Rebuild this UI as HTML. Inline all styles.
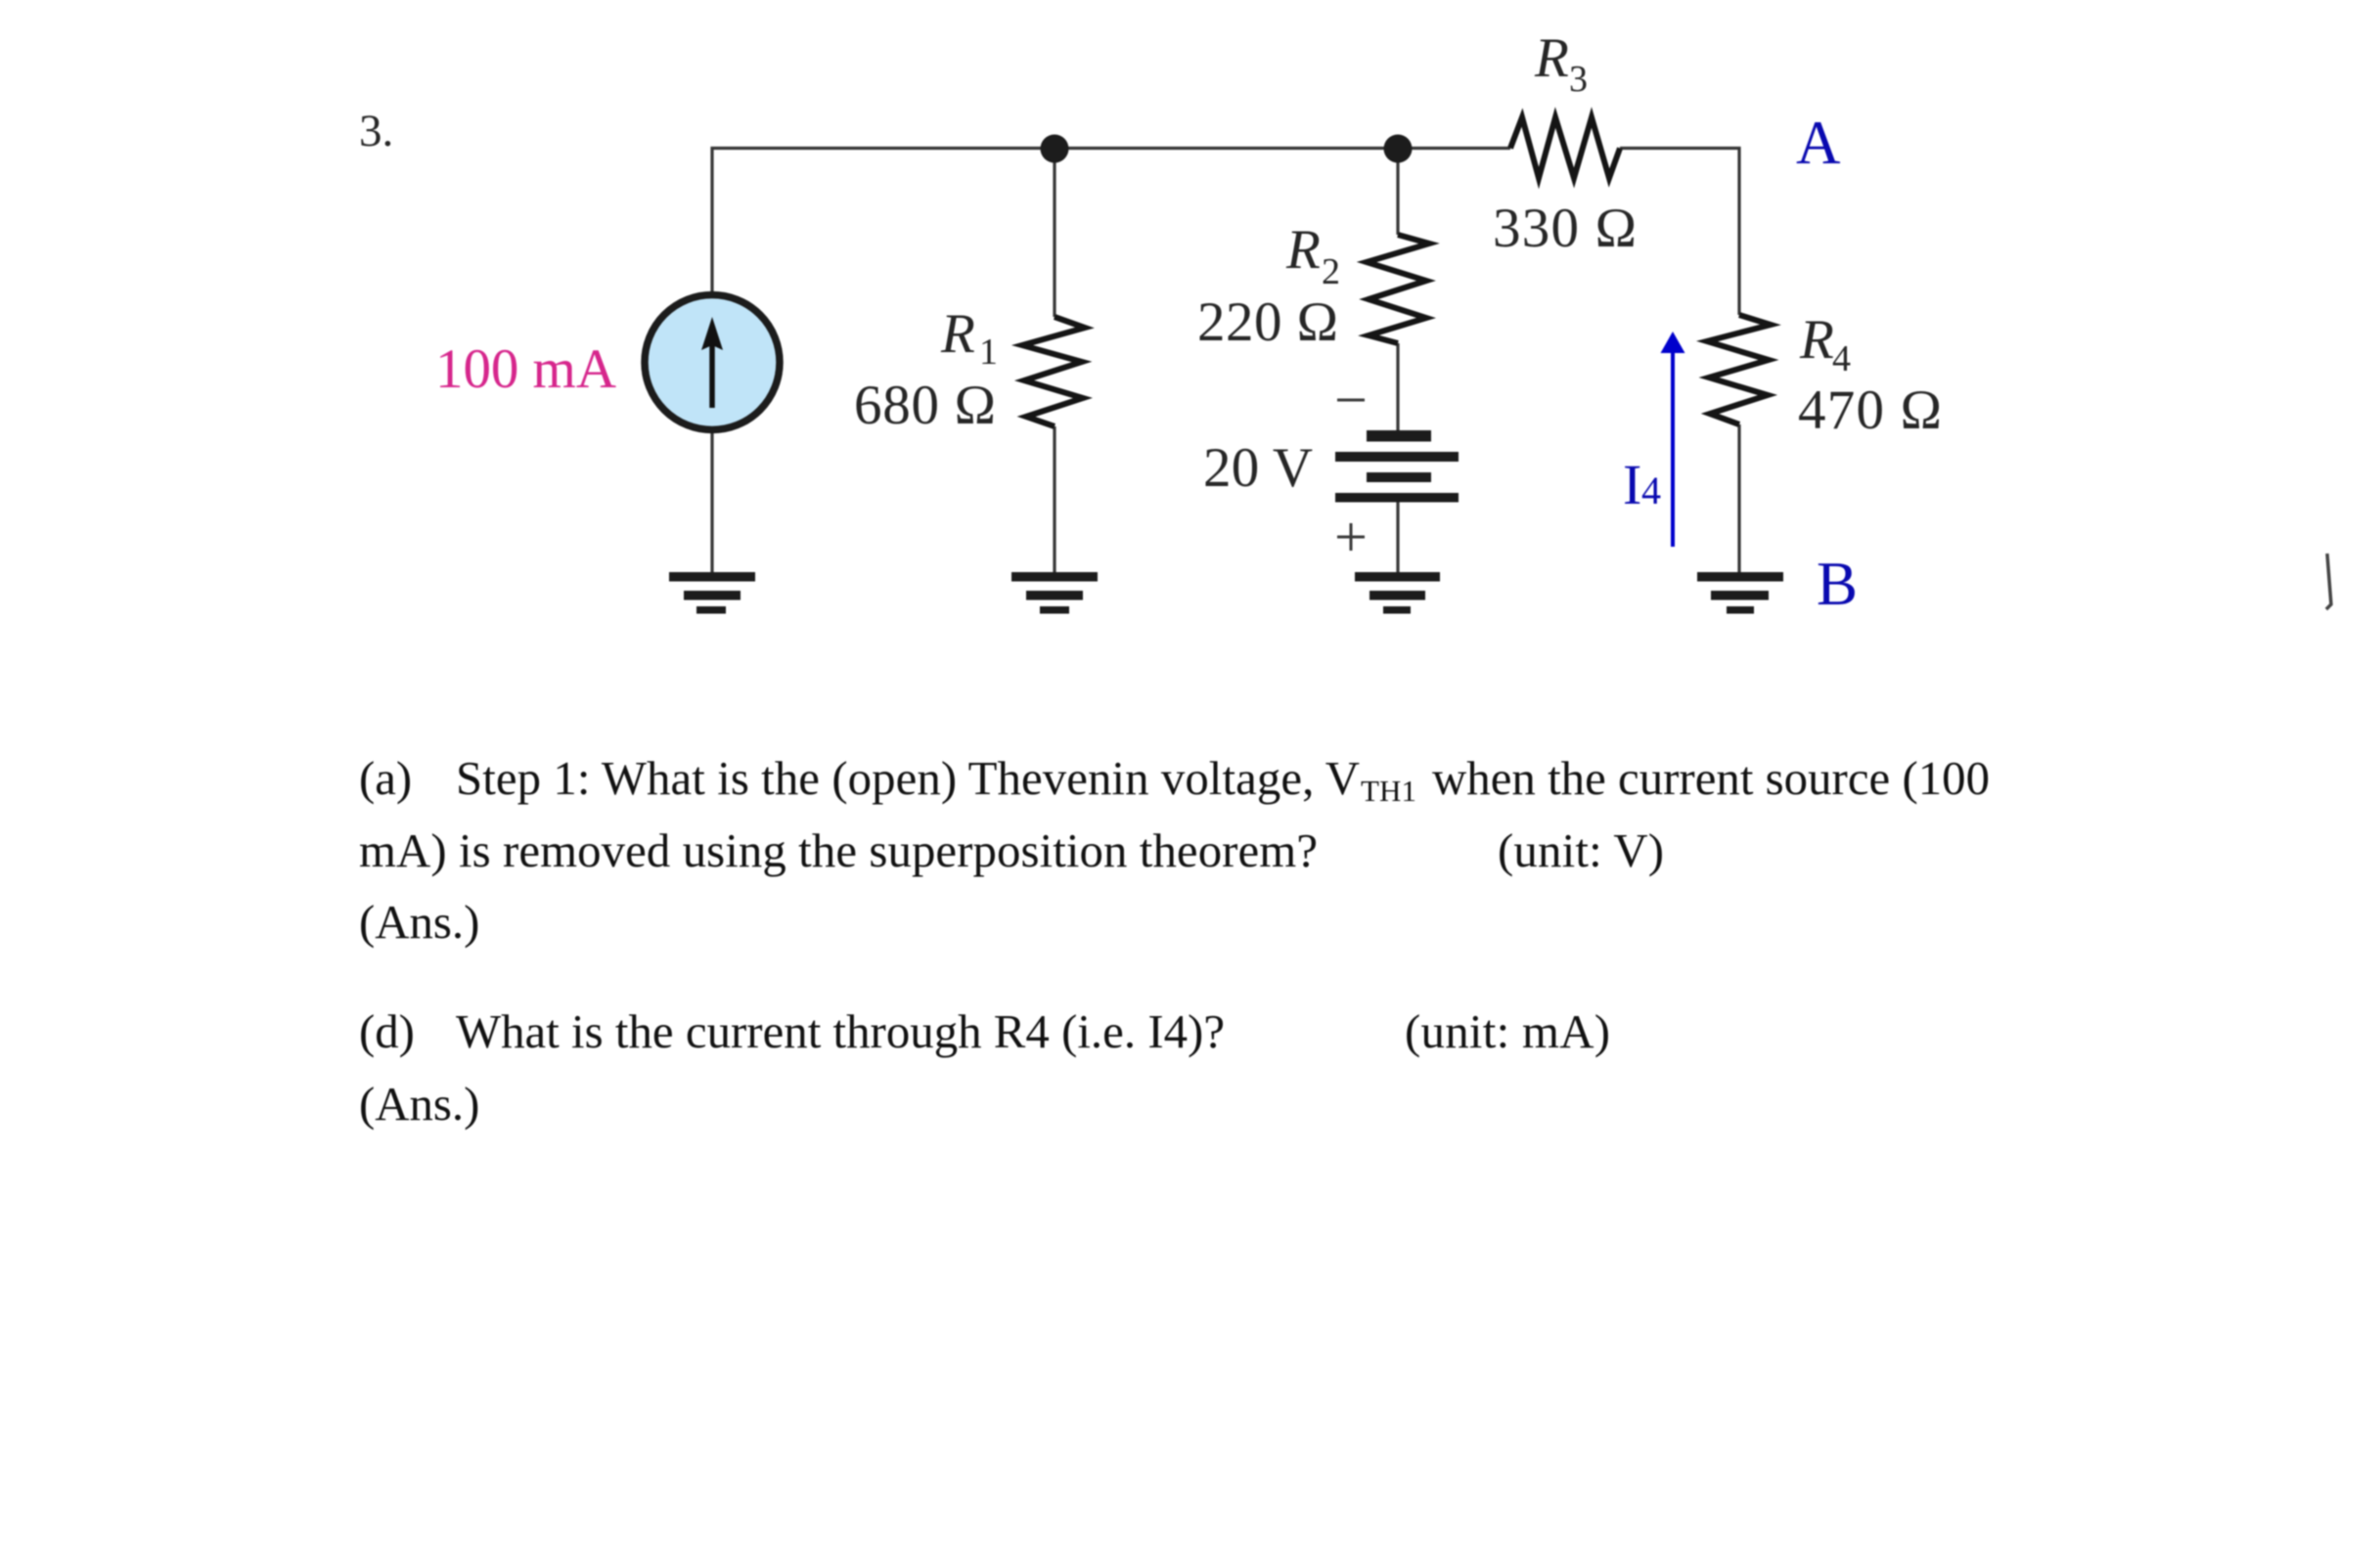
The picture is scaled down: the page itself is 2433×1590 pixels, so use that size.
<!DOCTYPE html>
<html><head><meta charset="utf-8"><style>
html,body{margin:0;padding:0;background:#fff;width:2433px;height:1590px;overflow:hidden}
svg{display:block;position:absolute;left:0;top:0;filter:blur(0.7px)}
text{font-family:"Liberation Serif",serif;fill:#262626;font-size:57px}
.q{font-size:48.8px;fill:#111}
.i{font-style:italic}
.s{font-size:38px}
.b{fill:#0a0ab0}
</style></head><body>
<svg width="2433" height="1590" viewBox="0 0 2433 1590" xmlns="http://www.w3.org/2000/svg">
<rect width="2433" height="1590" fill="#fff"/>
<g fill="none" stroke="#363636" stroke-width="3.2">
<path d="M728 299V151.5H1544M1656 151.5H1778V322M1778 434V585M1078 151.5V324M1078 436V585M728 442V585M1429 151.5V240M1429 351V441M1429 513V585"/>
</g>
<g fill="none" stroke="#151515" stroke-width="6" stroke-linejoin="miter">
<path d="M1078 324L1109 335L1045 353L1106 370L1047 389L1107 407L1049 426L1078 436"/>
<path d="M1429 240L1461 249L1397 268L1458 287L1399 306L1458 325L1399 343L1429 351"/>
<path d="M1778 322L1810 332L1745 349L1808 368L1747 386L1807 404L1748 423L1778 434"/>
<path d="M1544 151.500L1556 120L1573 182L1590 120L1609 182L1627 120L1645 182L1656 151.500"/>
</g>
<circle cx="1078" cy="152" r="14.500" fill="#1c1c1c"/>
<circle cx="1429" cy="152" r="14.500" fill="#1c1c1c"/>
<circle cx="728" cy="370.500" r="69" fill="#c0e4f8" stroke="#1c1c1c" stroke-width="7.500"/>
<path d="M728 417V350" stroke="#111" stroke-width="5.500" fill="none"/>
<path d="M728 324L739 358L728 353L717 358Z" fill="#111"/>
<g fill="#1c1c1c">
<rect x="684" y="585" width="88" height="9.500"/><rect x="699" y="604" width="58" height="9.500"/><rect x="712" y="620" width="30" height="7.500"/>
<rect x="1034" y="585" width="88" height="9.500"/><rect x="1049" y="604" width="58" height="9.500"/><rect x="1063" y="620" width="30" height="7.500"/>
<rect x="1385" y="585" width="87" height="9.500"/><rect x="1400" y="604" width="57" height="9.500"/><rect x="1414" y="620" width="28" height="7.500"/>
<rect x="1735" y="585" width="88" height="9.500"/><rect x="1749" y="604" width="59" height="9.500"/><rect x="1765" y="620" width="28" height="7.500"/>
<rect x="1397" y="440" width="66" height="11.500"/><rect x="1365" y="462" width="126" height="10"/>
<rect x="1397" y="483" width="66" height="10"/><rect x="1365" y="504" width="126" height="9.500"/>
</g>
<path d="M1367 409H1395M1367 549H1395M1381 535V563" stroke="#3a3a3a" stroke-width="3" fill="none"/>
<path d="M1710 559V355" stroke="#0000cc" stroke-width="4" fill="none"/>
<path d="M1710 339L1722.500 361H1697.500Z" fill="#0000cc"/>
<path d="M2379 566L2383 618L2378 623" stroke="#444" stroke-width="3.500" fill="none"/>

<text x="367" y="149" style="font-size:47px">3.</text>
<text x="445" y="396" textLength="185" style="fill:#d6268c">100 mA</text>
<text x="962" y="360" class="i">R</text><text x="1001" y="372" class="s">1</text>
<text x="873" y="433" textLength="145">680 Ω</text>
<text x="1315" y="274" class="i">R</text><text x="1351" y="290" class="s">2</text>
<text x="1224" y="348" textLength="144">220 Ω</text>
<text x="1230" y="497" textLength="112">20 V</text>
<text x="1569" y="78" class="i">R</text><text x="1604" y="93" class="s">3</text>
<text x="1526" y="252" textLength="147">330 Ω</text>
<text x="1840" y="366" class="i">R</text><text x="1873" y="379" class="s">4</text>
<text x="1838" y="438" textLength="147">470 Ω</text>
<text x="1836" y="167" class="b" style="font-size:63px">A</text>
<text x="1857" y="618" class="b" style="font-size:63px">B</text>
<text x="1659" y="515" class="b" style="font-size:58px">I</text><text x="1678" y="515" class="b" style="font-size:40px">4</text>

<text x="367" y="812" class="q">(a)</text>
<text x="466" y="812" class="q" textLength="924">Step 1: What is the (open) Thevenin voltage, V</text>
<text x="1391" y="819" class="q" style="font-size:31px" textLength="57">TH1</text>
<text x="1464" y="812" class="q" textLength="570">when the current source (100</text>
<text x="367" y="886" class="q" textLength="980">mA) is removed using the superposition theorem?</text>
<text x="1531" y="886" class="q" textLength="170">(unit: V)</text>
<text x="367" y="959" class="q">(Ans.)</text>
<text x="367" y="1071" class="q">(d)</text>
<text x="466" y="1071" class="q" textLength="786">What is the current through R4 (i.e. I4)?</text>
<text x="1436" y="1071" class="q" textLength="210">(unit: mA)</text>
<text x="367" y="1145" class="q">(Ans.)</text>
</svg>
</body></html>
